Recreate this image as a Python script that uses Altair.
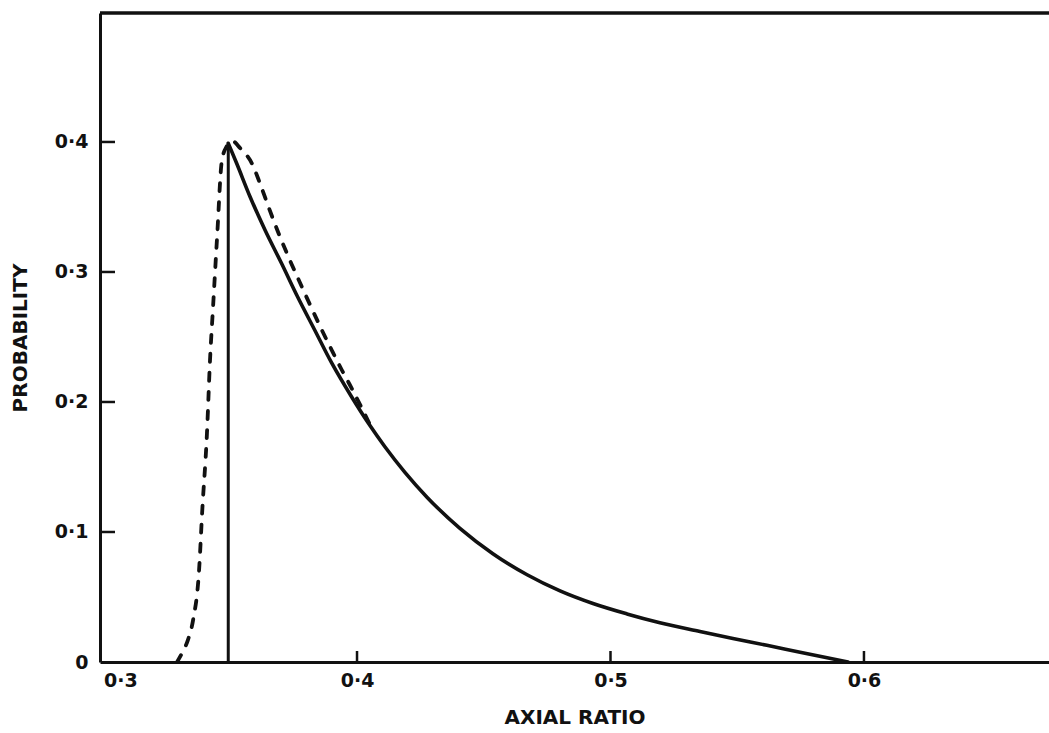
import altair as alt
import pandas as pd

# ---- data ----
solid_x = [0.3492, 0.3525, 0.3578, 0.3637, 0.3703, 0.3764, 0.3834, 0.3900, 0.3979,
           0.4045, 0.4110, 0.4189, 0.4276, 0.4406, 0.4536, 0.4671, 0.4801, 0.4931,
           0.5065, 0.5195, 0.5353, 0.5483, 0.5617, 0.5748, 0.5937]
solid_y = [0.3990, 0.3836, 0.3579, 0.3323, 0.3063, 0.2815, 0.2550, 0.2300, 0.2038,
           0.1836, 0.1656, 0.1459, 0.1268, 0.1028, 0.0833, 0.0671, 0.0547, 0.0450,
           0.0370, 0.0302, 0.0234, 0.0180, 0.0128, 0.0075, 0.0]

drop_x = [0.3492, 0.3492]
drop_y = [0.0, 0.399]

dash_x = [0.3290, 0.3310, 0.3333, 0.3353, 0.3377, 0.3389, 0.3408, 0.3420, 0.3432,
          0.3448, 0.3467, 0.3487, 0.3507, 0.3540, 0.3585, 0.3617, 0.3650, 0.3690,
          0.3742, 0.3782, 0.3821, 0.3861, 0.3900, 0.3940, 0.3979, 0.4019, 0.4050]
dash_y = [0.0, 0.007, 0.017, 0.032, 0.071, 0.115, 0.176, 0.232, 0.273,
          0.327, 0.386, 0.397, 0.4008, 0.3950, 0.3836, 0.3682, 0.3505, 0.3300,
          0.3060, 0.2887, 0.2721, 0.2554, 0.2400, 0.2246, 0.2105, 0.1952, 0.1830]

x_label_values = [0.3, 0.4, 0.5, 0.6]
x_tick_marks = [0.4, 0.5, 0.6]
y_label_values = [0.0, 0.1, 0.2, 0.3, 0.4]
y_tick_marks = [0.1, 0.2, 0.3, 0.4]

x_title = "AXIAL RATIO"
y_title = "PROBABILITY"

# ---- layout ----
W, H = 949, 649
X_DOM = [0.2986, 0.6730]
Y_DOM = [0.0, 0.4992]
INK = "#111111"
FONT = "DejaVu Sans"

xs = alt.Scale(domain=X_DOM, nice=False, zero=False)
ys = alt.Scale(domain=Y_DOM, nice=False, zero=False)

lab = "datum.value == 0 ? '0' : replace(format(datum.value, '.1f'), '.', '\u00b7')"

x_axis = alt.Axis(values=x_label_values, labelExpr=lab, ticks=False, grid=False,
                  domainWidth=3, domainColor=INK, labelColor=INK,
                  labelFont=FONT, labelFontSize=19, labelFontWeight="bold",
                  labelPadding=9, labelFlush=5,
                  title=x_title, titleFont=FONT, titleFontSize=20,
                  titleFontWeight="bold", titleColor=INK, titlePadding=17)
y_axis = alt.Axis(values=y_label_values, labelExpr=lab, ticks=False, grid=False,
                  domainWidth=3, domainColor=INK, labelColor=INK,
                  labelFont=FONT, labelFontSize=19, labelFontWeight="bold",
                  labelPadding=12, labelFlush=False,
                  title=y_title, titleFont=FONT, titleFontSize=20,
                  titleFontWeight="bold", titleColor=INK, titlePadding=24)

def X(field="x"):
    return alt.X(f"{field}:Q", scale=xs, axis=x_axis)

def Y(field="y"):
    return alt.Y(f"{field}:Q", scale=ys, axis=y_axis)

solid_df = pd.DataFrame({"x": solid_x, "y": solid_y})
drop_df = pd.DataFrame({"x": drop_x, "y": drop_y})
dash_df = pd.DataFrame({"x": dash_x, "y": dash_y})

solid = alt.Chart(solid_df).mark_line(color=INK, strokeWidth=3.6, interpolate="monotone",
                                      strokeCap="round").encode(x=X(), y=Y())
drop = alt.Chart(drop_df).mark_line(color=INK, strokeWidth=3).encode(x=X(), y=Y())
dashed = alt.Chart(dash_df).mark_line(color=INK, strokeWidth=3.8, interpolate="monotone",
                                      strokeDash=[8, 11], strokeCap="round").encode(x=X(), y=Y())

yt = alt.Chart(pd.DataFrame({"y": y_tick_marks})).mark_rule(color=INK, strokeWidth=2.5).encode(
    y=Y(), x=alt.value(0), x2=alt.value(15))
xt = alt.Chart(pd.DataFrame({"x": x_tick_marks})).mark_rule(color=INK, strokeWidth=2.5).encode(
    x=X(), y=alt.value(H), y2=alt.value(H - 11))
top = alt.Chart(pd.DataFrame({"k": [0]})).mark_rule(color=INK, strokeWidth=3.5).encode(
    x=alt.value(0), x2=alt.value(W), y=alt.value(0))

chart = alt.layer(drop, solid, dashed, yt, xt, top).properties(
    width=W, height=H,
    autosize=alt.AutoSizeParams(type="none"),
    padding={"left": 100, "top": 13, "right": 0, "bottom": 71},
    background="white",
).configure_view(stroke=None)

chart.save("out.html", embed_options={"renderer": "svg", "actions": False})
